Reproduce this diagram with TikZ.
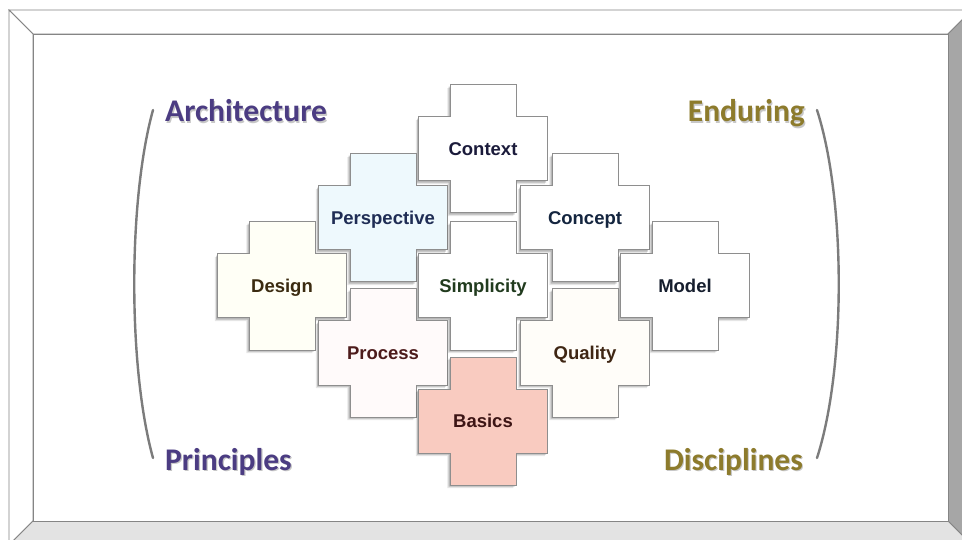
\documentclass[tikz,border=0pt]{standalone}
\usepackage{fontspec}
\setmainfont{Liberation Sans}
\newfontfamily\calfont{Carlito}

\definecolor{frameline}{HTML}{858585}
\definecolor{bevelright}{HTML}{A6A6A6}
\definecolor{bevelbottom}{HTML}{E3E3E3}
\definecolor{tileline}{HTML}{8E8E8E}
\definecolor{bracket}{HTML}{7C7C7C}
\definecolor{purpleword}{HTML}{4B3C82}
\definecolor{goldword}{HTML}{8D7B2C}

\definecolor{fillblue}{HTML}{EEF9FD}
\definecolor{fillcream}{HTML}{FFFFF6}
\definecolor{fillrose}{HTML}{FFFAFA}
\definecolor{fillivory}{HTML}{FFFDF9}
\definecolor{fillpink}{HTML}{F9CBC0}

\definecolor{txctx}{HTML}{1B1B3B}
\definecolor{txpersp}{HTML}{1F2D55}
\definecolor{txconc}{HTML}{14253F}
\definecolor{txdesign}{HTML}{3B2B10}
\definecolor{txsimp}{HTML}{213B1E}
\definecolor{txmodel}{HTML}{161E2E}
\definecolor{txproc}{HTML}{4D1B1B}
\definecolor{txqual}{HTML}{3F2614}
\definecolor{txbasic}{HTML}{3D1515}

\tikzset{
  tileedge/.style={draw=tileline, line width=1pt, line join=miter},
  tilelabel/.style={font=\fontsize{18.5}{20}\selectfont\bfseries, inner sep=0pt, anchor=base},
  sideword/.style={font=\calfont\fontsize{31.5}{34}\selectfont\bfseries, inner sep=0pt},
  wordshadow/.style={sideword, text=black, opacity=0.22},
  brace/.style={draw=bracket, line width=2.4pt, line cap=round},
  bevel/.style={draw=frameline, line width=0.8pt, line join=miter},
}

% A plus-shaped tile centred on #2, with a soft shadow down-left
\newcommand{\plustile}[5]{%
  \fill[black, opacity=0.10, shift={#2}, xshift=-2.6pt, yshift=-3.2pt]
    (-33,-64) -- (33,-64) -- (33,-32) -- (64.5,-32) -- (64.5,32) -- (33,32)
    -- (33,64) -- (-33,64) -- (-33,32) -- (-64.5,32) -- (-64.5,-32) -- (-33,-32) -- cycle;
  \fill[black, opacity=0.20, shift={#2}, xshift=-1.3pt, yshift=-1.6pt]
    (-33,-64) -- (33,-64) -- (33,-32) -- (64.5,-32) -- (64.5,32) -- (33,32)
    -- (33,64) -- (-33,64) -- (-33,32) -- (-64.5,32) -- (-64.5,-32) -- (-33,-32) -- cycle;
  \draw[tileedge, fill=#3, shift={#2}]
    (-33,-64) -- (33,-64) -- (33,-32) -- (64.5,-32) -- (64.5,32) -- (33,32)
    -- (33,64) -- (-33,64) -- (-33,32) -- (-64.5,32) -- (-64.5,-32) -- (-33,-32) -- cycle;
  \node[tilelabel, text=#4, yshift=-6.8pt] (#1) at #2 {#5};
}

\begin{document}
\begin{tikzpicture}[x=1pt, y=-1pt]
  \useasboundingbox (0,0) rectangle (962,540);
  \fill[white] (0,0) rectangle (962,540);

  \begin{scope}
    \clip (0,0) rectangle (962,540);
    % bevelled frame
    \draw[bevel, fill=white] (9,10) -- (972,10) -- (948,34) -- (33,34) -- cycle;
    \draw[bevel, fill=white] (9,10) -- (33,34) -- (33,521) -- (9,545) -- cycle;
    \draw[bevel, fill=bevelright] (972,10) -- (948,34) -- (948,521) -- (972,545) -- cycle;
    \draw[bevel, fill=bevelbottom] (9,545) -- (33,521) -- (948,521) -- (972,545) -- cycle;
    \draw[bevel, fill=white] (33,34) rectangle (948,521);
  \end{scope}

  % round brackets
  \coordinate (lbtop) at (153,110);
  \coordinate (lbbot) at (153,458);
  \coordinate (rbtop) at (817,110);
  \coordinate (rbbot) at (817,458);
  \draw[brace] (lbtop) .. controls (128,200) and (128,368) .. (lbbot);
  \draw[brace] (rbtop) .. controls (846,200) and (846,368) .. (rbbot);

  % side words
  \node[wordshadow, anchor=base west] at (166.2,123.6) {Architecture};
  \node[sideword, text=purpleword, anchor=base west] (arch) at (165,122) {Architecture};
  \node[wordshadow, anchor=base west] at (166.2,471.6) {Principles};
  \node[sideword, text=purpleword, anchor=base west] (princ) at (165,470) {Principles};
  \node[wordshadow, anchor=base east] at (806.2,123.6) {Enduring};
  \node[sideword, text=goldword, anchor=base east] (endur) at (805,122) {Enduring};
  \node[wordshadow, anchor=base east] at (804.2,471.6) {Disciplines};
  \node[sideword, text=goldword, anchor=base east] (disc) at (803,470) {Disciplines};

  % interlocking tiles
  \plustile{context}{(483,149)}{white}{txctx}{Context}
  \plustile{perspective}{(383,218)}{fillblue}{txpersp}{Perspective}
  \plustile{concept}{(585,218)}{white}{txconc}{Concept}
  \plustile{design}{(282,286)}{fillcream}{txdesign}{Design}
  \plustile{simplicity}{(483,286)}{white}{txsimp}{Simplicity}
  \plustile{model}{(685,286)}{white}{txmodel}{Model}
  \plustile{process}{(383,353)}{fillrose}{txproc}{Process}
  \plustile{quality}{(585,353)}{fillivory}{txqual}{Quality}
  \plustile{basics}{(483,421)}{fillpink}{txbasic}{Basics}
\end{tikzpicture}
\end{document}
